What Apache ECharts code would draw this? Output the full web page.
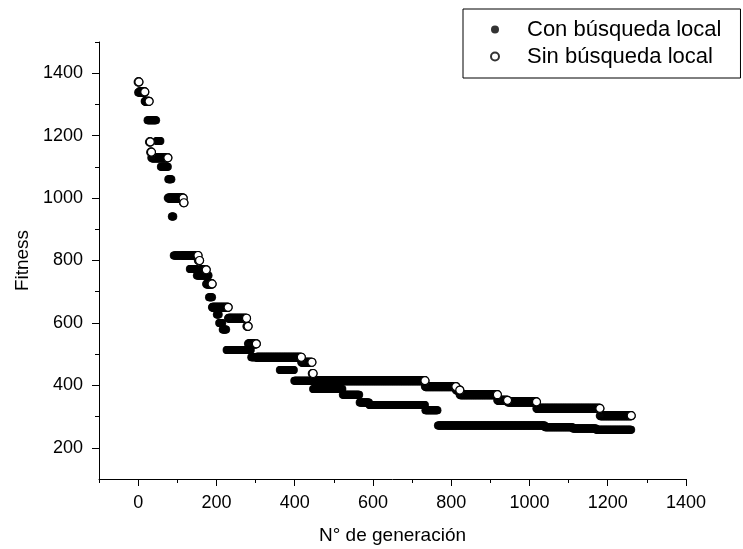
<!DOCTYPE html>
<html><head><meta charset="utf-8">
<script src="https://cdn.jsdelivr.net/npm/echarts@6/dist/echarts.min.js"></script>
<style>html,body{margin:0;padding:0;background:#fff}#c{width:743px;height:549px}</style>
</head><body><div id="c"></div>
<script>
// Step data: each fitness value holds from its start generation
// until the next start generation (one point per generation).
const lastGeneration = 1260;
const conStartGen = [0, 18, 24, 47, 58, 77, 86, 91, 132, 150, 181, 190, 201, 207, 216, 226, 289, 362, 399, 447, 523, 566, 591, 734, 766, 1040, 1111, 1171];
const conFitness  = [1338, 1309, 1249, 1183, 1100, 1060, 941, 816, 773, 752, 682, 650, 627, 600, 579, 513, 490, 449, 415, 388, 370, 345, 337, 320, 271, 266, 262, 258];
const sinStartGen = [0, 3, 18, 29, 32, 35, 77, 116, 118, 154, 158, 175, 190, 231, 278, 282, 303, 418, 445, 448, 734, 813, 823, 919, 945, 1019, 1181];
const sinFitness  = [1372, 1340, 1310, 1180, 1147, 1129, 1000, 985, 816, 800, 770, 725, 650, 615, 589, 533, 490, 474, 438, 415, 396, 385, 370, 352, 347, 326, 303];
const xMajorTicks = [0, 200, 400, 600, 800, 1000, 1200, 1400];
const xMinorTicks = [-100, 100, 300, 500, 700, 900, 1100, 1300];
const yMajorTicks = [200, 400, 600, 800, 1000, 1200, 1400];
const yMinorTicks = [300, 500, 700, 900, 1100, 1300, 1500];
const seriesNames = ['Con búsqueda local', 'Sin búsqueda local'];

// Expand the step data into one point per generation.
function expandSteps(starts, values) {
  const pts = [];
  for (let i = 0; i < starts.length; i++) {
    const end = i + 1 < starts.length ? starts[i + 1] - 1 : lastGeneration;
    for (let g = starts[i]; g <= end; g++) pts.push([g, values[i]]);
  }
  return pts;
}
// The last point of every plateau (where the open marker stays visible).
function plateauEnds(starts, values) {
  return starts.map((s, i) => [i + 1 < starts.length ? starts[i + 1] - 1 : lastGeneration, values[i]]);
}

const FONT = '"Liberation Sans", Arial, sans-serif';
const black = '#000';
const plain = v => String(v);
const chart = echarts.init(document.getElementById('c'), null, {renderer: 'canvas'});
chart.setOption({
  animation: false,
  backgroundColor: '#fff',
  textStyle: {fontFamily: FONT},
  grid: {left: 99, right: 57, top: 42, bottom: 70, containLabel: false, outerBoundsMode: 'none'},
  legend: {
    data: seriesNames,
    orient: 'vertical',
    left: 463, top: 9,
    padding: [8, 19, 9, 27],
    itemWidth: 54, itemHeight: 8, itemGap: 2,
    borderColor: black, borderWidth: 1,
    textStyle: {fontSize: 22, color: black, lineHeight: 25, fontFamily: FONT},
    selectedMode: false
  },
  xAxis: [{
    type: 'value', min: -100, max: 1400, interval: 100,
    name: 'N° de generación', nameLocation: 'middle', nameGap: 47,
    nameTextStyle: {fontSize: 19, color: black, fontFamily: FONT},
    axisLine: {show: true, onZero: false, lineStyle: {color: black, width: 1}},
    axisTick: {show: true, inside: false, length: 7, customValues: xMajorTicks, lineStyle: {color: black}},
    axisLabel: {customValues: xMajorTicks, formatter: plain, fontSize: 18, color: black, margin: 15, fontFamily: FONT},
    splitLine: {show: false}
  }, {
    type: 'value', min: -100, max: 1400, interval: 100, position: 'bottom',
    axisLine: {show: false, onZero: false},
    axisTick: {show: true, length: 4, customValues: xMinorTicks, lineStyle: {color: black}},
    axisLabel: {show: false},
    splitLine: {show: false}
  }],
  yAxis: [{
    type: 'value', min: 100, max: 1500, interval: 100,
    name: 'Fitness', nameLocation: 'middle', nameGap: 63,
    nameTextStyle: {fontSize: 19, color: black, fontFamily: FONT},
    axisLine: {show: true, onZero: false, lineStyle: {color: black, width: 1}},
    axisTick: {show: true, length: 7, customValues: yMajorTicks, lineStyle: {color: black}},
    axisLabel: {customValues: yMajorTicks, formatter: plain, fontSize: 18, color: black, margin: 16, fontFamily: FONT},
    splitLine: {show: false}
  }, {
    type: 'value', min: 100, max: 1500, interval: 100, position: 'left',
    axisLine: {show: false, onZero: false},
    axisTick: {show: true, length: 4, customValues: yMinorTicks, lineStyle: {color: black}},
    axisLabel: {show: false},
    splitLine: {show: false}
  }],
  series: [{
    type: 'scatter', name: seriesNames[0],
    xAxisIndex: 0, yAxisIndex: 0,
    data: expandSteps(conStartGen, conFitness),
    symbol: 'circle', symbolSize: 8,
    itemStyle: {color: black},
    emphasis: {disabled: true},
    z: 2
  }, {
    type: 'scatter', name: seriesNames[1],
    xAxisIndex: 0, yAxisIndex: 0,
    data: expandSteps(sinStartGen, sinFitness),
    symbol: 'circle', symbolSize: 8,
    itemStyle: {color: 'rgba(255,255,255,0)', borderColor: black, borderWidth: 1.2},
    emphasis: {disabled: true},
    z: 3
  }, {
    type: 'scatter', name: seriesNames[1],
    xAxisIndex: 0, yAxisIndex: 0,
    data: plateauEnds(sinStartGen, sinFitness),
    symbol: 'circle', symbolSize: 8,
    itemStyle: {color: '#ffffff', opacity: 1, borderColor: black, borderWidth: 1.2},
    emphasis: {disabled: true},
    z: 4
  }]
});
</script></body></html>
